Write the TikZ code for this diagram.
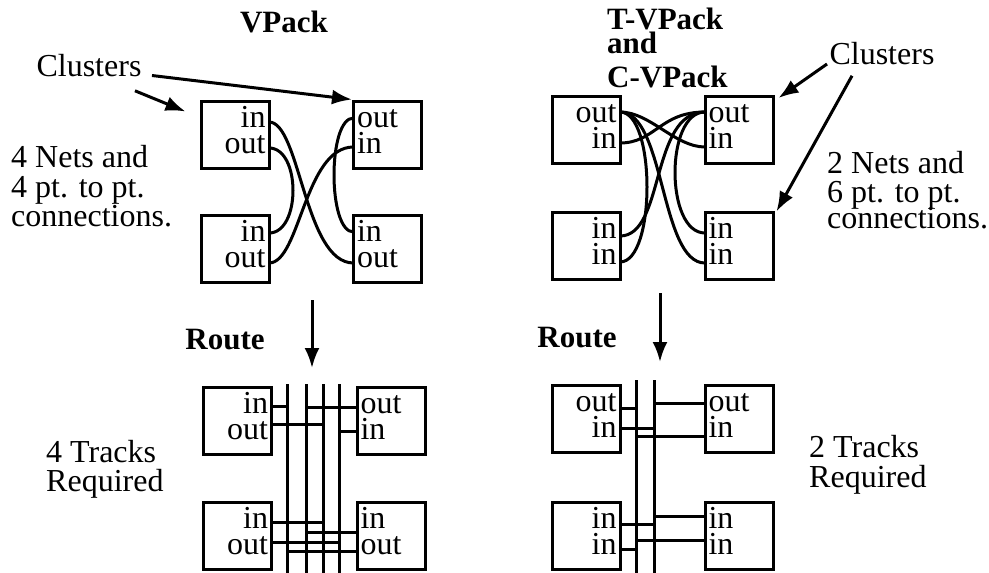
\documentclass[tikz,border=0pt]{standalone}
\usepackage{fontspec}
\setmainfont{Liberation Serif}
\usetikzlibrary{arrows.meta, calc, positioning}

\begin{document}
\begin{tikzpicture}[x=1pt, y=-1pt,
    font=\fontsize{32}{29}\selectfont,
    cluster/.style={rectangle, draw, line width=3pt, minimum width=68pt, minimum height=67pt,
        inner sep=0pt, text width=61pt, text height=21pt, text depth=36pt,
        font=\fontsize{32}{26}\selectfont},
    lclus/.style={cluster, align=right},
    rclus/.style={cluster, align=left},
    wire/.style={line width=3pt},
    arrow/.style={-{Latex[length=20pt,width=15pt]}, line width=3pt},
    title/.style={font=\fontsize{31}{29}\selectfont\bfseries},
    note/.style={align=left, inner sep=0pt, anchor=north west}
]
\useasboundingbox (0,0) rectangle (989,573);

% === VPACK ===
\node[title] (vpack) at (284,21.5) {VPack};
\node (vclus) at (89,66) {Clusters};
\node[note] (vnets) at (11,145) {4 Nets and\\[1pt]4 pt. to pt.\\connections.};

\node[lclus] (vtl) at (235,134.5) {in\\out};
\node[rclus] (vtr) at (387.5,134.5) {out\\in};
\node[lclus] (vbl) at (235,249) {in\\out};
\node[rclus] (vbr) at (387.5,249) {in\\out};

\coordinate (vtl-in) at (269,122);
\coordinate (vtl-out) at (269,148);
\coordinate (vtr-out) at (353.5,118);
\coordinate (vtr-in) at (353.5,147);
\coordinate (vbl-in) at (269,233);
\coordinate (vbl-out) at (269,263);
\coordinate (vbr-in) at (353.5,232);
\coordinate (vbr-out) at (353.5,263);

\draw[arrow] ($(vclus.south east)+(-10,10)$) -- ($(vtl.north west)+(-14,12)$);
\draw[arrow] ($(vclus.east)+(7,9.5)$) -- (vtr.north west);

% 4 nets, one connection each
\draw[wire] (vtl-in) .. controls +(31,0) and +(-49,0) .. (vbr-out);
\draw[wire] (vtl-out) .. controls +(32,0) and +(32,0) .. (vbl-in);
\draw[wire] (vtr-out) .. controls +(-26,0) and +(-26,0) .. (vbr-in);
\draw[wire] (vtr-in) .. controls +(-49,0) and +(31,0) .. (vbl-out);

% === T-VPACK AND C-VPACK ===
\node[title, note] (tvpack) at (607,8) {T-VPack\\[-5pt]and\\[5pt]C-VPack};
\node (tclus) at (882,54) {Clusters};
\node[note] (tnets) at (827,151) {2 Nets and\\6 pt. to pt.\\[-3pt]connections.};

\node[lclus] (ttl) at (586,130) {out\\in};
\node[rclus] (ttr) at (739,130) {out\\in};
\node[lclus] (tbl) at (586,245.5) {in\\in};
\node[rclus] (tbr) at (739,245.5) {in\\in};

\coordinate (ttl-out) at (620,112);
\coordinate (ttl-in) at (620,143);
\coordinate (ttr-out) at (705,112);
\coordinate (ttr-in) at (705,147);
\coordinate (tbl-ina) at (620,236);
\coordinate (tbl-inb) at (620,262);
\coordinate (tbr-ina) at (705,233);
\coordinate (tbr-inb) at (705,263);

\draw[arrow] ($(tclus.west)+(1,10)$) -- ($(ttr.north east)+(4,3)$);
\draw[arrow] ($(tclus.south west)+(26,7)$) -- ($(tbr.north east)+(2,1)$);

% 2 nets, three connections each
\draw[wire] (ttl-out) .. controls +(30,0) and +(-30,0) .. (ttr-in);
\draw[wire] (ttl-out) .. controls +(36,0) and +(36,0) .. (tbl-inb);
\draw[wire] (ttl-out) .. controls +(45,0) and +(-45,0) .. (tbr-inb);
\draw[wire] (ttr-out) .. controls +(-45,0) and +(35,0) .. (ttl-in);
\draw[wire] (ttr-out) .. controls +(-55,0) and +(45,0) .. (tbl-ina);
\draw[wire] (ttr-out) .. controls +(-40,0) and +(-40,0) .. (tbr-ina);

% === ROUTE: VPACK ===
\node[title] (vroute) at (225,339.5) {Route};
\coordinate (vdown) at (312,300);
\coordinate (vdown-end) at (312,368);
\draw[arrow] (vdown) -- (vdown-end);
\node[note] (vtracks) at (46,440) {4 Tracks\\Required};

\node[lclus] (rvtl) at (237.5,420.5) {in\\out};
\node[rclus] (rvtr) at (391,420.5) {out\\in};
\node[lclus] (rvbl) at (237.5,535.5) {in\\out};
\node[rclus] (rvbr) at (391,535.5) {in\\out};

\foreach \x/\n in {287/a, 306/b, 323/c, 339/d} {
    \coordinate (vtrk-\n) at (\x,384);
    \draw[wire] (vtrk-\n) -- ++(0,192);
}

\coordinate (rvtl-in) at (271.5,406);
\coordinate (rvtl-out) at (271.5,424);
\coordinate (rvtr-out) at (357,407);
\coordinate (rvtr-in) at (357,431);
\coordinate (rvbl-in) at (271.5,522);
\coordinate (rvbl-out) at (271.5,542);
\coordinate (rvbr-in) at (357,532);
\coordinate (rvbr-out) at (357,551);

\draw[wire] (rvtl-in) -- (rvtl-in -| vtrk-a);
\draw[wire] (rvbr-out) -- (rvbr-out -| vtrk-a);
\draw[wire] (rvtr-out) -- (rvtr-out -| vtrk-b);
\draw[wire] (rvbr-in) -- (rvbr-in -| vtrk-b);
\draw[wire] (rvtl-out) -- (rvtl-out -| vtrk-c);
\draw[wire] (rvbl-in) -- (rvbl-in -| vtrk-c);
\draw[wire] (rvtr-in) -- (rvtr-in -| vtrk-d);
\draw[wire] (rvbl-out) -- (rvbl-out -| vtrk-d);

% === ROUTE: T-VPACK AND C-VPACK ===
\node[title] (troute) at (577,338) {Route};
\coordinate (tdown) at (660,293);
\coordinate (tdown-end) at (660,362);
\draw[arrow] (tdown) -- (tdown-end);
\node[note] (ttracks) at (809,435) {2 Tracks\\[1pt]Required};

\node[lclus] (rttl) at (586,419) {out\\in};
\node[rclus] (rttr) at (739,419) {out\\in};
\node[lclus] (rtbl) at (586,535.5) {in\\in};
\node[rclus] (rtbr) at (739,535.5) {in\\in};

\foreach \x/\n in {636/a, 654/b} {
    \coordinate (ttrk-\n) at (\x,380);
    \draw[wire] (ttrk-\n) -- ++(0,196);
}

\coordinate (rttl-out) at (620,408);
\coordinate (rttl-in) at (620,428);
\coordinate (rttr-out) at (705,403);
\coordinate (rttr-in) at (705,436);
\coordinate (rtbl-ina) at (620,524);
\coordinate (rtbl-inb) at (620,549);
\coordinate (rtbr-ina) at (705,516);
\coordinate (rtbr-inb) at (705,540);

\draw[wire] (rttl-out) -- (rttl-out -| ttrk-a);
\draw[wire] (rttr-in) -- (rttr-in -| ttrk-a);
\draw[wire] (rtbl-inb) -- (rtbl-inb -| ttrk-a);
\draw[wire] (rtbr-inb) -- (rtbr-inb -| ttrk-a);
\draw[wire] (rttl-in) -- (rttl-in -| ttrk-b);
\draw[wire] (rttr-out) -- (rttr-out -| ttrk-b);
\draw[wire] (rtbl-ina) -- (rtbl-ina -| ttrk-b);
\draw[wire] (rtbr-ina) -- (rtbr-ina -| ttrk-b);

\end{tikzpicture}
\end{document}
